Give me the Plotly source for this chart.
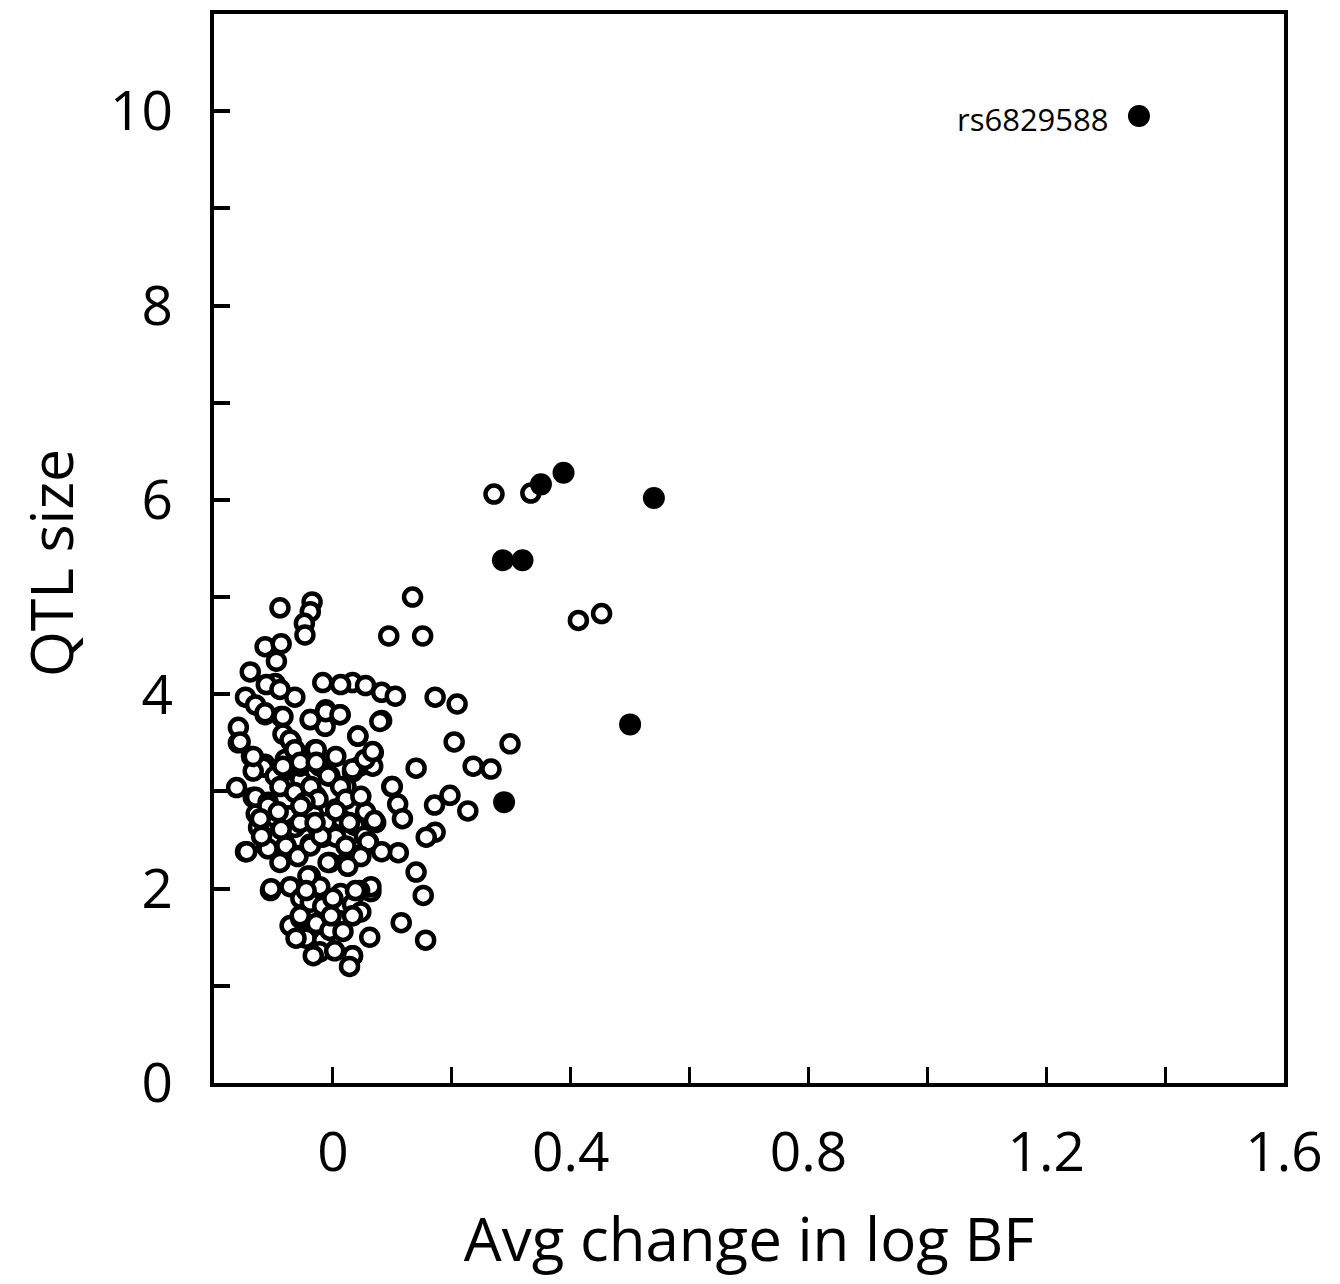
import plotly.graph_objects as go

# Open circles (other SNPs)
open_x = [
    0.271, 0.333, 0.413, 0.452, 0.134, 0.094, 0.151, 0.172, 0.209, 0.204, 0.298, 0.236, 0.266, 0.140,
    0.197, 0.171, 0.227, 0.172, 0.157, 0.140, 0.152, 0.115, 0.156,
    0.033, 0.055, 0.082, 0.105, 0.082, 0.042, 0.068, 0.099, 0.109, 0.117, 0.110, 0.060, 0.082,
    0.064, 0.062, 0.033, 0.072, 0.045,
    -0.089, -0.035, -0.038, -0.048, -0.047, -0.114, -0.087, -0.095, -0.139, -0.097, -0.112,
    -0.017, 0.013, -0.147, -0.064, -0.089, -0.130, -0.114, -0.087, -0.038, -0.012, 0.012,
    -0.159, -0.159, -0.013, -0.084, -0.070, -0.030, 0.005, -0.137, -0.114, -0.080, -0.055,
    -0.162, -0.134, -0.109, 0.005, -0.147, -0.105, -0.072, -0.038, -0.022, 0.013, 0.064, 0.045,
    -0.072, -0.054, -0.045, -0.017, 0.012, -0.022, 0.003, 0.033, 0.028, 0.100,
    -0.059, -0.089, -0.112, -0.125, -0.075, -0.028, -0.022, 0.022, -0.117, -0.064, -0.017,
    0.005, 0.022, -0.038, -0.005, 0.022, -0.054, -0.038, -0.017, 0.000, 0.033, 0.047, -0.055,
    -0.028, -0.005, 0.017, 0.033, -0.003, -0.062, -0.033, 0.013, 0.037, 0.055, 0.070, 0.053,
    -0.100, -0.095, -0.079, -0.033, -0.028, -0.012, -0.075, -0.054, -0.084, -0.097, -0.055,
    -0.005, 0.033, 0.045, 0.067, -0.134, -0.129,
    -0.156, -0.114, -0.084, -0.038, -0.012, 0.012, 0.042, 0.079, -0.134, -0.072, -0.064,
    -0.028, 0.033, 0.054, 0.067, -0.130, -0.109, -0.084, -0.055, -0.028, -0.089, -0.064,
    -0.037, -0.008, 0.013, 0.022, 0.047, -0.025, -0.047,
    -0.109, -0.145, -0.109, -0.079, -0.059, -0.038, -0.020, 0.005, 0.028, 0.059, 0.047,
    0.025, -0.008, -0.042, -0.104, -0.045, 0.038, -0.087, -0.055, -0.030, -0.092, -0.054,
    -0.122, -0.120,
]
open_y = [
    6.06, 6.07, 4.76, 4.83, 5.00, 4.60, 4.60, 3.97, 3.90, 3.51, 3.49, 3.26, 3.23, 3.24,
    2.96, 2.86, 2.80, 2.58, 2.53, 2.17, 1.93, 1.65, 1.47,
    4.12, 4.09, 4.02, 3.98, 3.73, 3.57, 3.40, 3.05, 2.87, 2.72, 2.37, 2.48, 2.38,
    1.97, 1.50, 1.31, 2.68, 2.34,
    4.89, 4.95, 4.85, 4.73, 4.61, 4.49, 4.52, 4.34, 4.23, 4.11, 4.10,
    4.12, 4.10, 3.97, 3.97, 4.05, 3.89, 3.79, 3.77, 3.74, 3.84, 3.79,
    3.66, 3.50, 3.67, 3.59, 3.51, 3.43, 3.36, 3.36, 3.28, 3.33, 3.30,
    3.04, 2.94, 2.84, 2.82, 2.38, 1.98, 2.02, 2.13, 2.02, 1.95, 2.02, 1.98,
    1.62, 1.69, 1.49, 1.47, 1.67, 1.35, 1.36, 1.31, 1.20, 3.05,
    2.34, 2.27, 2.43, 2.63, 2.75, 2.95, 3.26, 3.05, 3.25, 2.63, 2.53,
    2.53, 2.44, 2.46, 2.27, 2.27, 1.90, 1.86, 1.82, 1.90, 1.84, 1.76, 1.72,
    1.64, 1.57, 1.56, 1.72, 1.72, 1.49, 1.31, 2.72, 2.65, 2.79, 2.70, 2.54,
    2.74, 2.54, 2.44, 2.77, 2.65, 2.68, 3.05, 3.12, 3.21, 3.16, 3.26,
    3.16, 3.20, 3.26, 3.26, 3.21, 2.77,
    3.51, 3.81, 3.77, 3.74, 3.82, 3.79, 3.57, 3.72, 3.36, 3.53, 3.43,
    3.43, 3.23, 3.33, 3.41, 2.94, 2.89, 3.26, 3.30, 3.30, 3.05, 2.99,
    3.05, 3.16, 3.05, 2.92, 2.95, 2.92, 2.89,
    2.85, 2.38, 2.41, 2.44, 2.33, 2.44, 2.54, 2.80, 2.68, 2.48, 2.33,
    2.23, 2.27, 2.13, 2.00, 1.98, 1.98, 2.61, 2.68, 2.68, 2.79, 2.85,
    2.72, 2.54,
]

# Filled circles (highlighted SNPs)
filled_x = [1.356, 0.388, 0.350, 0.540, 0.286, 0.319, 0.500, 0.288]
filled_y = [9.95, 6.28, 6.16, 6.02, 5.38, 5.38, 3.69, 2.89]
label_text = "rs6829588"

x_tickvals = [-0.2, 0, 0.2, 0.4, 0.6, 0.8, 1.0, 1.2, 1.4, 1.6]
x_ticktext = ["", "0", "", "0.4", "", "0.8", "", "1.2", "", "1.6"]
y_tickvals = list(range(0, 12))
y_ticktext = ["0", "", "2", "", "4", "", "6", "", "8", "", "10", ""]
x_title = "Avg change in log BF"
y_title = "QTL size"

FONT = "Open Sans"

fig = go.Figure()
fig.add_trace(go.Scatter(
    x=open_x, y=open_y, mode="markers",
    marker=dict(symbol="circle", size=17, color="white",
                line=dict(color="black", width=4.5)),
    showlegend=False, hoverinfo="skip",
))
fig.add_trace(go.Scatter(
    x=filled_x, y=filled_y, mode="markers",
    marker=dict(symbol="circle", size=22, color="black",
                line=dict(color="black", width=0)),
    showlegend=False,
))
fig.add_annotation(
    x=filled_x[0], y=filled_y[0], text=label_text, showarrow=False,
    xanchor="right", yanchor="middle", xshift=-28, yshift=-3,
    font=dict(family=FONT, size=31, color="black"),
)
fig.add_annotation(
    xref="paper", yref="paper", x=-0.1527, y=0.486, text=y_title,
    showarrow=False, textangle=-90, xanchor="center", yanchor="middle",
    borderpad=0,
    font=dict(family=FONT, size=59, color="black"),
)

fig.update_layout(
    width=1332, height=1276,
    margin=dict(l=205.5, r=56, t=6, b=201),
    plot_bgcolor="white", paper_bgcolor="white",
    font=dict(family=FONT, color="black"),
    xaxis=dict(
        range=[-0.2, 1.6], tickvals=x_tickvals, ticktext=x_ticktext,
        ticks="inside", ticklen=16, tickwidth=2.5, tickcolor="black",
        showline=True, linewidth=4, linecolor="black", mirror=True,
        showgrid=False, zeroline=False,
        tickfont=dict(family=FONT, size=55, color="black"),
        ticklabelstandoff=18,
        title=dict(text=x_title, standoff=34,
                   font=dict(family=FONT, size=60, color="black")),
        automargin=False,
    ),
    yaxis=dict(
        range=[0, 11], tickvals=y_tickvals, ticktext=y_ticktext,
        ticks="inside", ticklen=16, tickwidth=4, tickcolor="black",
        showline=True, linewidth=4, linecolor="black", mirror=True,
        showgrid=False, zeroline=False,
        tickfont=dict(family=FONT, size=55, color="black"),
        ticklabelstandoff=26,
        automargin=False,
    ),
)

fig.write_html("out.html")
